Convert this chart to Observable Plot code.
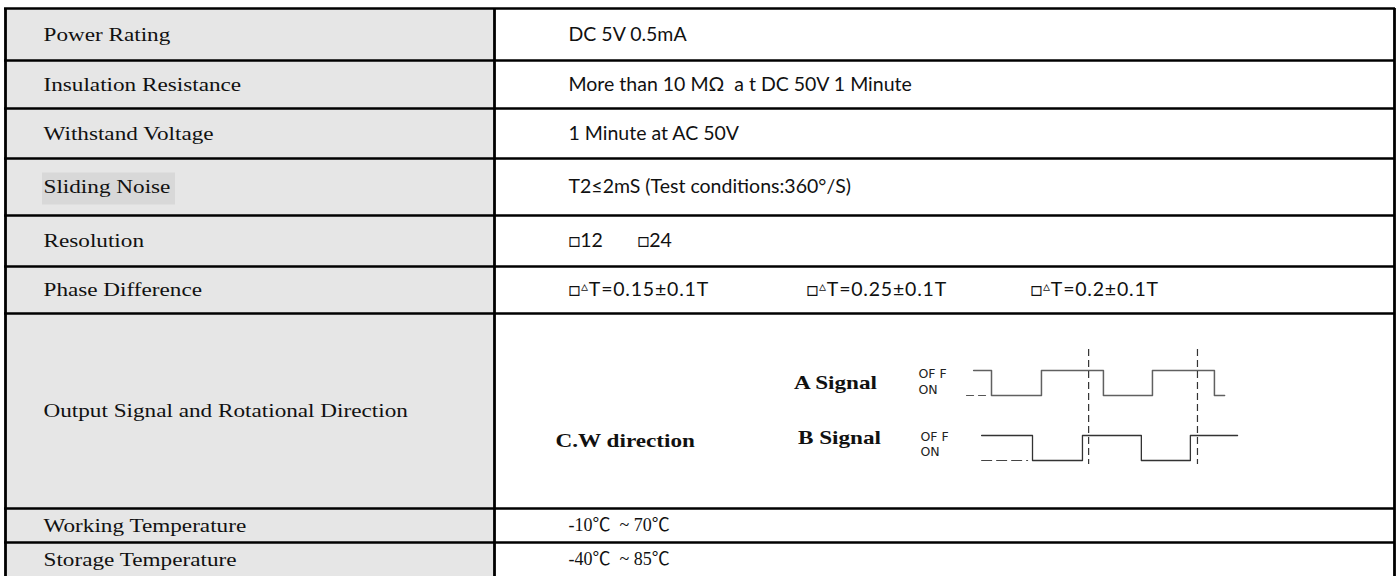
<!DOCTYPE html>
<html>
<head>
<meta charset="utf-8">
<script src="https://cdn.jsdelivr.net/npm/d3@7"></script>
<script src="https://cdn.jsdelivr.net/npm/@observablehq/plot@0.6"></script>
<style>
  html, body { margin: 0; padding: 0; background: #ffffff; }
  #chart svg { display: block; }
</style>
</head>
<body>
<div id="chart"></div>
<script>
// ---------- DATA ----------
const labels = [
  "Power Rating",
  "Insulation Resistance",
  "Withstand Voltage",
  "Sliding Noise",
  "Resolution",
  "Phase Difference",
  "Output Signal and Rotational Direction",
  "Working Temperature",
  "Storage Temperature"
];
const sansValues = [
  "DC 5V 0.5mA",
  "More than 10 MΩ  a t DC 50V 1 Minute",
  "1 Minute at AC 50V",
  "T2≤2mS (Test conditions:360°/S)"
];
const resolutionOptions = ["□12", "□24"];
const phaseOptions = ["□▵T=0.15±0.1T", "□▵T=0.25±0.1T", "□▵T=0.2±0.1T"];
const temperatureValues = ["-10℃  ~ 70℃", "-40℃  ~ 85℃"];
const directionLabel = "C.W direction";
const signalNames = ["A Signal", "B Signal"];
const levelNames = ["OF F", "ON"];
// waveform edges, in electrical degrees (0 = first falling edge of A)
const aEdges  = [-58, 0, 162, 363, 522, 723, 756];
const aLevels = [1, 0, 1, 0, 1, 0, 0];
const bEdges  = [-32, 133, 295, 486, 645, 798];
const bLevels = [1, 0, 1, 0, 1, 1];
const aDashedLow = [-81, -19];
const bDashedLow = [-32, 117];
const markerPhases = [315, 668];

// ---------- LAYOUT ----------
const W = 1399, H = 576;
const xLeft = 5, xDiv = 494, xRight = 1394;
const rowEdges = [8, 60, 108, 158, 215, 266, 313, 508, 542, 582];
const labelX = 43, valueX = 568;
const resolutionX = [568, 637];
const phaseX = [568, 806, 1030];
const wave = {x0: 991, pxPerDeg: 111 / 360};
const sig = [
  {hi: 370, lo: 395, nameX: 835, nameY: 382, lvlX: 918, offY: 373, onY: 389},
  {hi: 435, lo: 460, nameX: 839, nameY: 437, lvlX: 920, offY: 436, onY: 451}
];
const markerTop = 349, markerBottom = 464;
const serif = "'Liberation Serif', 'Times New Roman', serif";
const sans = "Lato, 'Noto Sans', sans-serif";
const STRETCH = 1.22;

const rows = labels.map((label, i) => ({
  label, i, y1: rowEdges[i], y2: rowEdges[i + 1],
  ym: (rowEdges[i] + Math.min(rowEdges[i + 1], H)) / 2
}));
const mid = i => rows[i].ym;

const wx = t => wave.x0 + t * wave.pxPerDeg;
const aPts = aEdges.map((t, k) => ({t, v: aLevels[k]}));
const bPts = bEdges.map((t, k) => ({t, v: bLevels[k]}));

const textRows = [
  ...sansValues.map((v, i) => ({text: v, x: valueX, y: mid(i)})),
  ...resolutionOptions.map((v, k) => ({text: v, x: resolutionX[k], y: mid(4)}))
];
const phaseRows = phaseOptions.map((v, k) => ({text: v, x: phaseX[k], y: mid(5)}));
const tempRows = temperatureValues.map((v, k) => ({text: v, x: valueX, y: mid(7 + k)}));

const plot = Plot.plot({
  width: W, height: H,
  margin: 0,
  x: {domain: [0, W], range: [0, W], axis: null},
  y: {domain: [0, H], range: [0, H], axis: null},
  style: {background: "#ffffff"},
  marks: [
    // left column fill
    Plot.rect(rows, {x1: xLeft, x2: xDiv, y1: "y1", y2: d => Math.min(d.y2, H), fill: "#e6e6e6"}),
    // highlight behind "Sliding Noise"
    Plot.rect([rows[3]], {x1: labelX - 1, x2: labelX + 132, y1: d => d.ym - 14, y2: d => d.ym + 18, fill: "#d8d8d8"}),
    // left labels
    Plot.text(rows, {x: labelX, y: "ym", text: "label", textAnchor: "start", fontFamily: serif, fontSize: 19, fill: "#111"}),
    // sans values
    Plot.text(textRows, {x: "x", y: "y", text: "text", textAnchor: "start", fontFamily: sans, fontSize: 19.5, fill: "#111"}),
    Plot.text(phaseRows, {x: "x", y: "y", text: "text", textAnchor: "start", fontFamily: sans, fontSize: 19.5, fill: "#111"}),
    // temperature values
    Plot.text(tempRows, {x: "x", y: "y", text: "text", textAnchor: "start", fontFamily: "'Liberation Serif', 'Noto Sans CJK SC', serif", fontSize: 18, fill: "#111"}),
    // direction label
    Plot.text([directionLabel], {x: 555, y: 440, text: d => d, textAnchor: "start", fontFamily: serif, fontWeight: "bold", fontSize: 19, fill: "#111"}),
    // signal names
    Plot.text(signalNames, {x: (d, k) => sig[k].nameX, y: (d, k) => sig[k].nameY, text: d => d, fontFamily: serif, fontWeight: "bold", fontSize: 19, fill: "#111"}),
    // OFF / ON labels
    Plot.text(sig.flatMap(s => [{t: levelNames[0], x: s.lvlX, y: s.offY}, {t: levelNames[1], x: s.lvlX, y: s.onY}]),
      {x: "x", y: "y", text: "t", textAnchor: "start", fontFamily: "'DejaVu Sans', sans-serif", fontSize: 12.5, fill: "#222"}),
    // dashed low level before first edge
    Plot.line(aDashedLow, {x: d => wx(d), y: sig[0].lo, stroke: "#555", strokeWidth: 1.2, strokeDasharray: "7,5"}),
    Plot.line(bDashedLow, {x: d => wx(d), y: sig[1].lo, stroke: "#444", strokeWidth: 1.2, strokeDasharray: "10,5"}),
    // waveforms
    Plot.line(aPts, {x: d => wx(d.t), y: d => d.v ? sig[0].hi : sig[0].lo, curve: "step-after", stroke: "#606060", strokeWidth: 1.5}),
    Plot.line(bPts, {x: d => wx(d.t), y: d => d.v ? sig[1].hi : sig[1].lo, curve: "step-after", stroke: "#333", strokeWidth: 1.3}),
    // dashed phase markers
    Plot.ruleX(markerPhases, {x: d => wx(d), y1: markerTop, y2: markerBottom, stroke: "#333", strokeWidth: 1.2, strokeDasharray: "7,4"}),
    // horizontal grid lines
    Plot.ruleY(rowEdges.filter(y => y < H), {x1: xLeft - 1, x2: xRight + 1, y: d => d, stroke: "#000", strokeWidth: 2.6}),
    // vertical grid lines
    Plot.ruleX([xLeft, xDiv, xRight], {x: d => d, y1: rowEdges[0], y2: H, stroke: "#000", strokeWidth: 2.8})
  ]
});

document.getElementById("chart").appendChild(plot);

// horizontal stretch of serif text (labels / signal names) to match the reference's wide letterforms
plot.querySelectorAll("g[font-family]").forEach(g => {
  if (g.getAttribute("font-family") !== serif) return;
  g.querySelectorAll("text").forEach(t => {
    const len = t.getComputedTextLength();
    if (len > 0) {
      t.setAttribute("textLength", (len * STRETCH).toFixed(1));
      t.setAttribute("lengthAdjust", "spacingAndGlyphs");
    }
  });
});

// small raised triangle in the phase options, slightly wider tracking
plot.querySelectorAll("text").forEach(t => {
  const s = t.textContent;
  if (!s.includes("▵")) return;
  const [pre, post] = s.split("▵");
  t.textContent = "";
  t.setAttribute("letter-spacing", "0.8");
  const ns = "http://www.w3.org/2000/svg";
  const a = document.createElementNS(ns, "tspan"); a.textContent = pre;
  const b = document.createElementNS(ns, "tspan"); b.textContent = "▵";
  b.setAttribute("font-size", "14"); b.setAttribute("dy", "-5");
  const c = document.createElementNS(ns, "tspan"); c.textContent = post; c.setAttribute("dy", "5");
  t.append(a, b, c);
});
</script>
</body>
</html>
